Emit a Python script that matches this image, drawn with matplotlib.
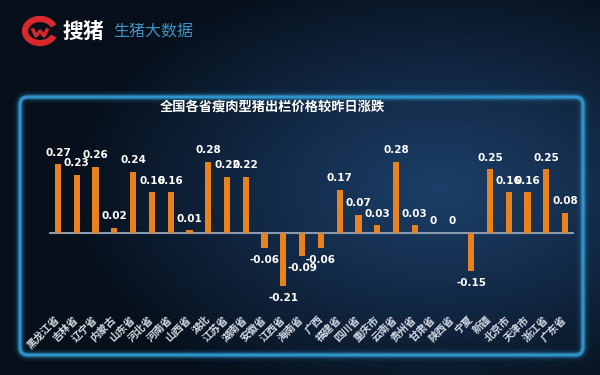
import numpy as np
import matplotlib
matplotlib.use("Agg")
import matplotlib.pyplot as plt
from matplotlib.patches import FancyBboxPatch, Arc

plt.rcParams['font.family'] = ['Noto Sans CJK SC', 'DejaVu Sans']

provinces = ['黑龙江省', '吉林省', '辽宁省', '内蒙古', '山东省', '河北省', '河南省', '山西省',
             '湖北', '江苏省', '湖南省', '安徽省', '江西省', '海南省', '广西', '福建省',
             '四川省', '重庆市', '云南省', '贵州省', '甘肃省', '陕西省', '宁夏', '新疆',
             '北京市', '天津市', '浙江省', '广东省']
changes = [0.27, 0.23, 0.26, 0.02, 0.24, 0.16, 0.16, 0.01, 0.28, 0.22, 0.22, -0.06,
           -0.21, -0.09, -0.06, 0.17, 0.07, 0.03, 0.28, 0.03, 0, 0, -0.15, 0.25,
           0.16, 0.16, 0.25, 0.08]
title = '全国各省瘦肉型猪出栏价格较昨日涨跌'

W, H = 600, 375
fig = plt.figure(figsize=(6, 3.75), dpi=100)

# background gradient
bg = fig.add_axes([0, 0, 1, 1])
bg.set_axis_off()
yy, xx = np.mgrid[0:H, 0:W]
d = np.sqrt(((xx - 440) / 380.0) ** 2 + ((yy - 190) / 230.0) ** 2)
t = np.clip(d, 0, 1) ** 1.1
c_center = np.array([0x1c, 0x3e, 0x68]) / 255.0
c_edge = np.array([0x06, 0x0f, 0x1a]) / 255.0
img = c_center[None, None, :] * (1 - t[..., None]) + c_edge[None, None, :] * t[..., None]
bg.imshow(img, extent=[0, W, H, 0], aspect='auto', zorder=0)
bg.set_xlim(0, W)
bg.set_ylim(H, 0)

# panel border with glow
for lw, a in [(9, 0.08), (6, 0.15), (3.5, 0.5), (2, 1.0)]:
    bg.add_patch(FancyBboxPatch((20, 97), 563, 258, boxstyle='round,pad=0,rounding_size=8',
                                fill=False, edgecolor='#2f93c9', linewidth=lw, alpha=a, zorder=2))

# logo
bg.add_patch(Arc((40, 31), 30, 24, theta1=20, theta2=340, color='#d8282c', linewidth=4.5, zorder=3))
bg.plot([33, 36, 40, 44, 47], [30, 36, 31, 36, 30], color='#d8282c', linewidth=2.5, zorder=3)
bg.text(62, 31, '搜猪', color='white', fontsize=15, fontweight='bold', va='center', ha='left', zorder=3)
bg.text(113, 31, '生猪大数据', color='#3f92c4', fontsize=11.5, va='center', ha='left', zorder=3)

# title
bg.text(160, 107, title, color='white', fontsize=9.5, fontweight='bold', va='center', ha='left', zorder=3)

# chart axes
ymin, ymax = -0.23, 0.40
ax = fig.add_axes([48.6 / W, 1 - 291.4 / H, (574.4 - 48.6) / W, (291.4 - 131.4) / H])
ax.patch.set_alpha(0)
x = np.arange(len(provinces))
ax.bar(x, changes, width=0.33, color='#e8821e', zorder=3)
ax.axhline(0, color='#8a9bb0', linewidth=1.5, zorder=2)
ax.set_xlim(-0.5, len(provinces) - 0.5)
ax.set_ylim(ymin, ymax)
for s in ax.spines.values():
    s.set_visible(False)
ax.set_yticks([])
ax.set_xticks(x)
ax.set_xticklabels(provinces, rotation=45, ha='right', va='center', rotation_mode='anchor',
                   color='#d5dbe3', fontsize=7.5, fontweight='bold')
ax.tick_params(axis='x', length=0, pad=19)

for xi, v in zip(x, changes):
    off = 8.5 if v >= 0 else -8.5
    ax.annotate(f'{v:g}', (xi, v), xytext=(0, off), textcoords='offset points',
                ha='center', va='center', color='white', fontsize=7.5, fontweight='bold',
                family='DejaVu Sans', zorder=4)

fig.savefig('out.png', dpi=100)
